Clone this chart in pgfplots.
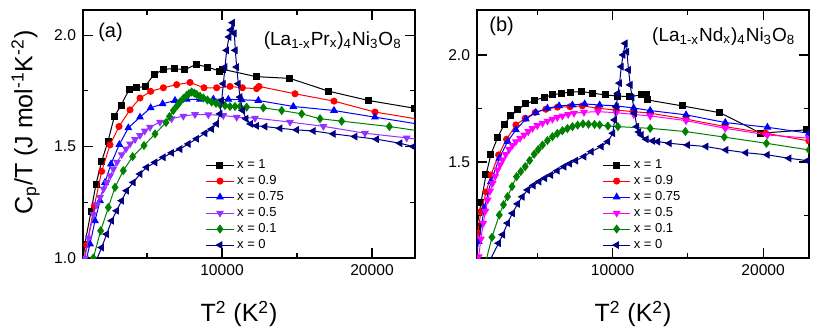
\documentclass[border=0pt]{standalone}
\usepackage{pgfplots}
\pgfplotsset{compat=1.18}
\usepackage{fontspec}
\setmainfont{Liberation Sans}
\definecolor{cpurple}{RGB}{150,50,255}
\definecolor{cgreen}{RGB}{0,128,0}
\definecolor{cnavy}{RGB}{0,0,128}
\definecolor{cmag}{RGB}{255,0,255}

\pgfplotsset{
  cpstyle/.style={
    scale only axis, width=166pt, height=124pt,
    clip marker paths=true,
    tick align=inside, major tick length=5pt, minor tick length=2.5pt,
    every tick/.style={black, line width=0.6pt},
    every minor tick/.style={black, line width=0.6pt},
    axis line style={line width=0.7pt},
    ytick={1.0,1.5,2.0}, minor ytick={1.25,1.75},
    xtick={10000,20000}, minor xtick={5000,15000},
    scaled x ticks=false,
    /pgf/number format/assume math mode=true,
    yticklabel style={/pgf/number format/.cd, fixed, fixed zerofill, precision=1},
    xticklabel style={/pgf/number format/.cd, set thousands separator={}},
    tick label style={font=\fontsize{7.8}{9}\selectfont},
    label style={font=\fontsize{12.5}{14}\selectfont},
    xlabel style={at={(axis description cs:0.47,-0.226)}, anchor=center},
    legend cell align=left,
    legend image code/.code={\draw[mark repeat=2,mark phase=2] plot coordinates {(0cm,0cm) (0.24cm,0cm) (0.48cm,0cm)};},
    every axis plot/.append style={line width=0.5pt, mark options={solid}},
  }
}

\begin{document}
\begin{tikzpicture}
% ---------------- (a) ----------------
\begin{axis}[cpstyle, at={(0pt,0pt)}, anchor=south west,
  xmin=733, xmax=22867, ymin=1.0, ymax=2.113,
  xlabel={T\textsuperscript{2} (K\textsuperscript{2})},
  ylabel={C\textsubscript{p}/T (J mol\textsuperscript{-1}K\textsuperscript{-2})},
  ylabel style={at={(axis description cs:-0.173,0.546)}, anchor=center, rotate=0},
  legend style={draw=none, fill=none, at={(0.37,0.407)}, anchor=north west,
    inner sep=0pt, outer sep=0pt, font=\fontsize{6.5}{7}\selectfont,
    nodes={inner ysep=1pt, inner xsep=1.5pt, text height=4.8pt, text depth=1.2pt}, row sep=0pt},
]
\addplot[black, mark=square*, mark size=1.5pt] table {
600 0.90
850 1.06
1267 1.209
1600 1.332
1978 1.434
2400 1.524
2822 1.635
3267 1.685
3800 1.755
4311 1.764
4867 1.770
5467 1.824
6133 1.847
6800 1.850
7533 1.845
8267 1.869
9022 1.857
9822 1.839
10044 1.847
12267 1.814
14533 1.806
17089 1.749
19756 1.707
22850 1.672
};
\addlegendentry{x = 1}
\addplot[red, mark=*, mark size=1.5pt] table {
700 0.95
978 1.059
1489 1.234
1978 1.389
2533 1.508
3133 1.590
3867 1.665
4533 1.718
5244 1.748
6089 1.764
6978 1.778
7867 1.788
8800 1.764
9644 1.764
10533 1.770
11356 1.764
12311 1.760
12467 1.770
14867 1.737
17467 1.704
20200 1.655
22900 1.625
};
\addlegendentry{x = 0.9}
\addplot[blue, mark=triangle*, mark size=1.8pt] table {
800 0.95
1200 1.063
1533 1.167
1867 1.257
2200 1.339
2600 1.422
3156 1.509
3756 1.584
4533 1.632
5244 1.674
6044 1.692
6867 1.707
7644 1.712
8533 1.712
9422 1.713
10422 1.712
11311 1.710
12422 1.707
14756 1.680
17467 1.662
20200 1.632
22900 1.603
};
\addlegendentry{x = 0.75}
\addplot[cpurple, mark=triangle*, mark size=1.8pt, mark options={rotate=180}] table {
750 0.95
867 1.00
1100 1.09
1422 1.196
1650 1.24
1867 1.272
2100 1.31
2311 1.339
2550 1.37
2756 1.399
3000 1.43
3311 1.464
3600 1.49
3867 1.512
4200 1.532
4533 1.550
4850 1.570
5200 1.587
5867 1.610
6644 1.625
7422 1.637
8200 1.644
9089 1.643
10089 1.640
10978 1.632
12200 1.628
14533 1.610
16756 1.591
19533 1.560
22311 1.539
23000 1.533
};
\addlegendentry{x = 0.5}
\addplot[cgreen, mark=diamond*, mark size=1.9pt] table {
1200 0.95
1422 1.0
1911 1.122
2422 1.227
2867 1.317
3422 1.392
4044 1.455
4800 1.505
5533 1.557
6267 1.608
6500 1.635
6756 1.662
7000 1.683
7200 1.700
7420 1.716
7644 1.730
7800 1.738
7978 1.745
8150 1.740
8311 1.734
8530 1.726
8756 1.718
9030 1.709
9311 1.700
9600 1.694
9867 1.688
10200 1.684
10533 1.680
10870 1.680
11200 1.680
11644 1.677
12756 1.674
13978 1.662
15311 1.647
16533 1.625
17978 1.614
21156 1.590
22978 1.572
};
\addlegendentry{x = 0.1}
\addplot[cnavy, mark=triangle*, mark size=1.8pt, mark options={rotate=90}] table {
1400 0.95
1644 0.994
1978 1.047
2311 1.107
2644 1.167
2978 1.212
3311 1.257
3644 1.302
4089 1.339
4533 1.377
4978 1.407
5533 1.429
6089 1.452
6644 1.472
7200 1.489
7756 1.512
8311 1.535
8867 1.560
9311 1.579
9644 1.602
9867 1.647
9978 1.707
10089 1.782
10200 1.857
10311 1.932
10467 1.992
10578 2.023
10711 2.056
10822 2.008
10889 1.932
10978 1.857
11089 1.782
11200 1.722
11378 1.662
11600 1.625
11911 1.602
12311 1.593
12867 1.590
13867 1.582
14978 1.575
16089 1.570
17422 1.557
18867 1.545
20311 1.533
21867 1.515
22756 1.500
};
\addlegendentry{x = 0}
\node[font=\fontsize{10}{12}\selectfont, anchor=center] at (rel axis cs:0.083,0.909) {(a)};
\node[font=\fontsize{9.5}{11}\selectfont, anchor=base east, inner sep=0pt] at (rel axis cs:0.961,0.856) {(La\textsubscript{1-x}Pr\textsubscript{x})\textsubscript{4}Ni\textsubscript{3}O\textsubscript{8}};
\end{axis}
% ---------------- (b) ----------------
\begin{axis}[cpstyle, at={(197pt,0pt)}, anchor=south west,
  xmin=993, xmax=23046, ymin=1.051, ymax=2.21,
  xlabel={T\textsuperscript{2} (K\textsuperscript{2})},
  legend style={draw=none, fill=none, at={(0.378,0.407)}, anchor=north west,
    inner sep=0pt, outer sep=0pt, font=\fontsize{6.5}{7}\selectfont,
    nodes={inner ysep=1pt, inner xsep=1.5pt, text height=4.8pt, text depth=1.2pt}, row sep=0pt},
]
\addplot[black, mark=square*, mark size=1.5pt] table {
800 1.05
1000 1.20
1258 1.310
1589 1.439
1921 1.536
2362 1.614
2804 1.676
3245 1.715
3687 1.743
4238 1.771
4790 1.787
5453 1.802
6004 1.813
6623 1.821
7219 1.826
7947 1.829
8697 1.821
9536 1.813
10353 1.808
11126 1.805
11901 1.813
12232 1.813
12298 1.790
14616 1.762
17132 1.730
19847 1.634
22868 1.650
};
\addlegendentry{x = 1}
\addplot[red, mark=*, mark size=1.5pt] table {
750 1.00
1038 1.167
1258 1.268
1600 1.36
1921 1.439
2428 1.533
2958 1.606
3576 1.673
4194 1.704
4857 1.731
5563 1.746
6335 1.756
7174 1.758
7991 1.762
9029 1.751
10245 1.742
11400 1.735
12497 1.728
14880 1.700
17483 1.665
20177 1.634
23046 1.598
};
\addlegendentry{x = 0.9}
\addplot[blue, mark=triangle*, mark size=1.8pt] table {
800 1.00
1104 1.128
1479 1.284
1921 1.408
2473 1.517
3024 1.595
3576 1.650
4238 1.700
4900 1.731
5673 1.751
6446 1.762
7329 1.766
8146 1.771
9139 1.766
10245 1.762
11400 1.752
12497 1.740
14880 1.720
17483 1.684
20285 1.662
23046 1.634
};
\addlegendentry{x = 0.75}
\addplot[cmag, mark=triangle*, mark size=1.8pt, mark options={rotate=180}] table {
900 0.98
1104 1.057
1250 1.14
1413 1.214
1550 1.27
1700 1.322
1870 1.365
2031 1.400
2200 1.432
2362 1.463
2530 1.487
2693 1.509
2900 1.535
3135 1.559
3350 1.578
3576 1.595
3850 1.611
4128 1.626
4400 1.642
4680 1.657
5000 1.670
5342 1.681
5670 1.691
6004 1.700
6330 1.708
6667 1.715
7050 1.722
7439 1.728
8101 1.732
9029 1.735
10245 1.730
11400 1.722
12497 1.715
14880 1.693
17483 1.657
20285 1.626
23046 1.611
};
\addlegendentry{x = 0.5}
\addplot[cgreen, mark=diamond*, mark size=1.9pt] table {
1400 0.98
1634 1.050
1987 1.148
2473 1.252
2750 1.30
3024 1.338
3320 1.385
3620 1.431
3900 1.455
4194 1.478
4490 1.507
4790 1.536
5060 1.558
5342 1.579
5670 1.600
6004 1.618
6330 1.633
6667 1.646
7000 1.656
7329 1.665
7680 1.672
8035 1.678
8400 1.676
8800 1.675
9139 1.673
9689 1.668
10353 1.665
12497 1.657
14834 1.642
17417 1.616
20219 1.587
23046 1.556
};
\addlegendentry{x = 0.1}
\addplot[cnavy, mark=triangle*, mark size=1.8pt, mark options={rotate=90}] table {
1700 0.98
1921 1.050
2428 1.120
2700 1.16
3024 1.214
3350 1.26
3687 1.304
4000 1.337
4349 1.369
4730 1.390
5121 1.408
5500 1.424
5894 1.439
6330 1.459
6777 1.478
7150 1.492
7550 1.506
8101 1.525
8587 1.548
9251 1.572
9689 1.595
10020 1.634
10132 1.696
10245 1.758
10353 1.821
10464 1.868
10576 1.945
10700 2.000
10841 2.054
10950 2.015
11060 1.930
11170 1.860
11300 1.800
11457 1.728
11611 1.665
11750 1.640
11901 1.626
12232 1.606
12669 1.598
13000 1.595
13775 1.587
14987 1.579
16205 1.572
17530 1.556
18854 1.543
20285 1.533
21722 1.517
22934 1.506
};
\addlegendentry{x = 0}
\node[font=\fontsize{10}{12}\selectfont, anchor=center] at (rel axis cs:0.074,0.933) {(b)};
\node[font=\fontsize{9.5}{11}\selectfont, anchor=base east, inner sep=0pt] at (rel axis cs:0.960,0.872) {(La\textsubscript{1-x}Nd\textsubscript{x})\textsubscript{4}Ni\textsubscript{3}O\textsubscript{8}};
\end{axis}
\pgfresetboundingbox
\path (-41.5pt,-37pt) rectangle (373.5pt,129pt);
\end{tikzpicture}
\end{document}
